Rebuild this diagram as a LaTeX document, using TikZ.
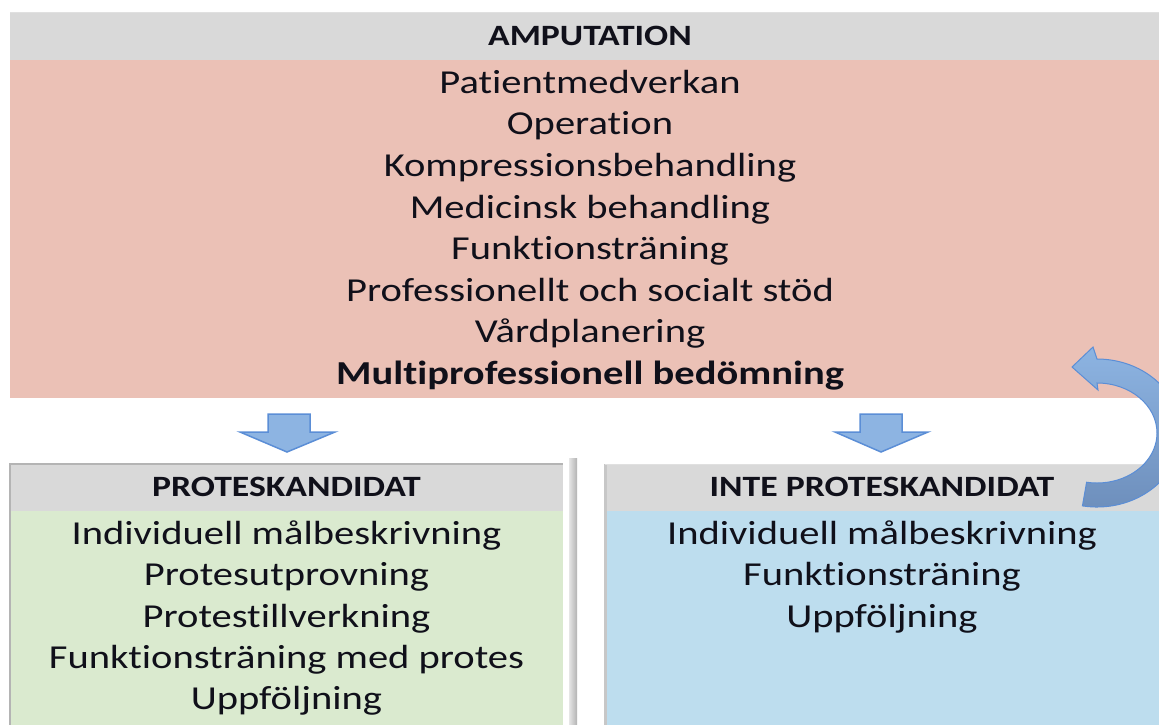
\documentclass[tikz,border=0pt]{standalone}
\usepackage{fontspec}
\setmainfont[FakeStretch=1.21, Ligatures=NoCommon]{Carlito}
\usetikzlibrary{calc}
\definecolor{headgray}{HTML}{D9D9D9}
\definecolor{pinkbg}{HTML}{EBC1B6}
\definecolor{greenbg}{HTML}{DAEACF}
\definecolor{bluebg}{HTML}{BDDDEE}
\definecolor{ink}{HTML}{10101A}
\definecolor{arrowfill}{HTML}{8DB4E2}
\definecolor{arrowline}{HTML}{5B8ED6}
\definecolor{arrowdark}{HTML}{6D8EBB}
\definecolor{edgegray}{HTML}{B4B4B4}
\begin{document}
\begin{tikzpicture}[x=1pt,y=-1pt,
  panel/.style={draw=none, inner sep=0pt, outer sep=0pt, anchor=north west},
  bodytext/.style={font=\fontsize{33.5}{41.6}\selectfont, text=ink, anchor=base, inner sep=0pt},
  headtext/.style={font=\fontsize{29.5}{35}\selectfont\bfseries, text=ink, anchor=base, inner sep=0pt},
  blockarrow/.style={fill=arrowfill, draw=arrowline, line width=1.5pt, line join=miter}]
\useasboundingbox (0,0) rectangle (1159,724);
\clip (0,0) rectangle (1159,724);

% top panel
\node[panel, fill=headgray, minimum width=1160pt, minimum height=48pt] (amphead) at (10,12) {};
\node[panel, fill=pinkbg, minimum width=1160pt, minimum height=338pt] (ampbody) at (10,60) {};
\draw[black!12, line width=1pt] (amphead.north west) -- (amphead.north east);

% lower panels
\node[panel, fill=headgray, minimum width=553pt, minimum height=47pt] (lhead) at (10,464) {};
\node[panel, fill=greenbg, minimum width=553pt, minimum height=262pt] (lbody) at (10,511) {};
\node[panel, fill=headgray, minimum width=560pt, minimum height=47pt] (rhead) at (605,464) {};
\node[panel, fill=bluebg, minimum width=560pt, minimum height=262pt] (rbody) at (605,511) {};

% panel edges and shadows
\draw[edgegray, line width=2pt] (lbody.south west) -- (lhead.north west) -- (lhead.north east);
\draw[black!22, line width=3pt] (rhead.north west) -- (rbody.south west);
\draw[black!12, line width=1pt] (rhead.north west) -- (rhead.north east);
\shade[left color=black!10, right color=black!30] (569,458) rectangle (577,724);

% headings
\node[headtext] (tamp) at (590,45) {AMPUTATION};
\node[headtext] (tpro) at (286.5,496) {PROTESKANDIDAT};
\node[headtext] (tinte) at (882,496) {INTE PROTESKANDIDAT};

% top panel list
\foreach \t [count=\i from 0] in {Patientmedverkan, Operation, Kompressionsbehandling,
    Medicinsk behandling, Funktionsträning, Professionellt och socialt stöd, Vårdplanering}
  \node[bodytext] (a\i) at (590,{93.3+41.6*\i}) {\t};
\node[bodytext, font=\fontsize{33.5}{41.6}\selectfont\bfseries] (a7) at (590,384.5) {Multiprofessionell bedömning};

% left panel list
\foreach \t [count=\i from 0] in {Individuell målbeskrivning, Protesutprovning, Protestillverkning,
    Funktionsträning med protes, Uppföljning}
  \node[bodytext] (l\i) at (286.5,{544.5+41.3*\i}) {\t};

% right panel list
\foreach \t [count=\i from 0] in {Individuell målbeskrivning, Funktionsträning, Uppföljning}
  \node[bodytext] (r\i) at (882,{544.5+41.3*\i}) {\t};

% down arrows
\draw[blockarrow] (268,414) -- (310,414) -- (310,432) -- (335,432) -- (287,452) -- (240,432) -- (268,432) -- cycle;
\draw[blockarrow] (860,414) -- (902,414) -- (902,432) -- (928,432) -- (881,452) -- (835,432) -- (860,432) -- cycle;

% curved return arrow
\coordinate (c) at (1097,433);
\draw[arrowline, line width=1pt, top color=arrowfill, bottom color=arrowdark, line join=miter]
  ($(c)+(100:84 and 74)$) arc[start angle=100, end angle=-90, x radius=84, y radius=74]
  -- (1093,347) -- (1072,367) -- (1098,390) -- ($(c)+(-90:60 and 50)$)
  arc[start angle=-90, end angle=100, x radius=60, y radius=50] -- cycle;
\end{tikzpicture}
\end{document}
